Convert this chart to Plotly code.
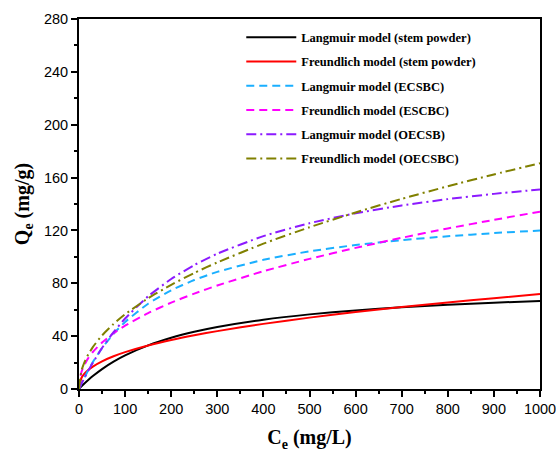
import plotly.graph_objects as go

# Equilibrium concentration Ce (mg/L)
ce = [0, 5, 10, 20, 30, 50, 75, 100, 150, 200, 250, 300, 400, 500, 600, 700, 800, 900, 1000]

# Adsorption capacity Qe (mg/g) of each fitted isotherm
langmuir_stem = [0, 1.81, 3.55, 6.79, 9.78, 15.09, 20.71, 25.45, 33.01, 38.76, 43.28, 46.94,
                 52.47, 56.47, 59.49, 61.85, 63.75, 65.31, 66.61]
freundlich_stem = [0, 8.14, 10.82, 14.39, 17.00, 20.97, 24.77, 27.88, 32.93, 37.07, 40.63, 43.80,
                   49.28, 54.01, 58.22, 62.03, 65.52, 68.76, 71.82]
langmuir_ecsbc = [0, 3.85, 7.49, 14.23, 20.33, 30.91, 41.80, 50.74, 64.53, 74.68, 82.46, 88.62,
                  97.74, 104.17, 108.95, 112.64, 115.58, 117.98, 119.96]
freundlich_escbc = [0, 12.57, 17.13, 23.35, 27.99, 35.17, 42.16, 47.95, 57.47, 65.36, 72.22, 78.34,
                    89.11, 98.47, 106.8, 114.4, 121.5, 128.0, 134.2]
langmuir_oecsb = [0, 3.64, 7.14, 13.76, 19.92, 31.02, 43.01, 53.32, 70.12, 83.23, 93.75, 102.38,
                  115.68, 125.46, 132.96, 138.89, 143.69, 147.66, 151.0]
freundlich_oecsbc = [0, 13.42, 18.72, 26.11, 31.73, 40.54, 49.25, 56.54, 68.69, 78.87, 87.80, 95.81,
                     110.0, 122.4, 133.6, 143.9, 153.4, 162.4, 170.8]

series = [
    ("Langmuir model (stem powder)", langmuir_stem, "#000000", "solid"),
    ("Freundlich model (stem powder)", freundlich_stem, "#FF0000", "solid"),
    ("Langmuir model (ECSBC)", langmuir_ecsbc, "#1AAFFF", "8px,5px"),
    ("Freundlich model (ESCBC)", freundlich_escbc, "#FF00FF", "8px,5px"),
    ("Langmuir model (OECSB)", langmuir_oecsb, "#8C1AFF", "10px,4px,2px,4px"),
    ("Freundlich model (OECSBC)", freundlich_oecsbc, "#808000", "10px,4px,2px,4px"),
]

fig = go.Figure()
for i, (name, qe, color, dash) in enumerate(series):
    fig.add_trace(go.Scatter(
        x=ce, y=qe, mode="lines", name=name, legendgroup=str(i),
        line=dict(color=color, width=2, dash=dash, shape="spline", smoothing=0.6),
    ))

serif_bold = dict(family="Liberation Serif, Times New Roman, serif", color="black", weight="bold")

axis_common = dict(
    showline=True, linecolor="black", linewidth=2, mirror=True,
    ticks="outside", ticklen=6, tickwidth=1.5, tickcolor="black",
    showgrid=False, zeroline=False, automargin=False, ticklabeloverflow="allow",
    tickfont=dict(family="Liberation Sans, Arial, sans-serif", size=14.5, color="black"),
)

fig.update_layout(
    width=556, height=452,
    margin=dict(l=79, r=16, t=19, b=63),
    paper_bgcolor="white", plot_bgcolor="white",
    xaxis=dict(
        range=[0, 1000.01], tickvals=list(range(0, 1001, 100)),
        minor=dict(ticks="outside", ticklen=3, tickwidth=1.5, tickcolor="black", dtick=50),
        title=dict(text="C<sub>e</sub> (mg/L)", standoff=14, font=dict(size=20, **serif_bold)),
        **axis_common,
    ),
    yaxis=dict(
        range=[0, 280.01], tickvals=list(range(0, 281, 40)),
        minor=dict(ticks="outside", ticklen=3, tickwidth=1.5, tickcolor="black", dtick=20),
        title=dict(text="Q<sub>e</sub> (mg/g)", standoff=9, font=dict(size=20, **serif_bold)),
        **axis_common,
    ),
    legend=dict(
        x=0.352, y=0.99, xanchor="left", yanchor="top",
        bgcolor="rgba(0,0,0,0)", tracegroupgap=5, itemwidth=50,
        font=dict(size=12.5, **serif_bold),
    ),
    showlegend=True,
)

fig.write_html("out.html")
